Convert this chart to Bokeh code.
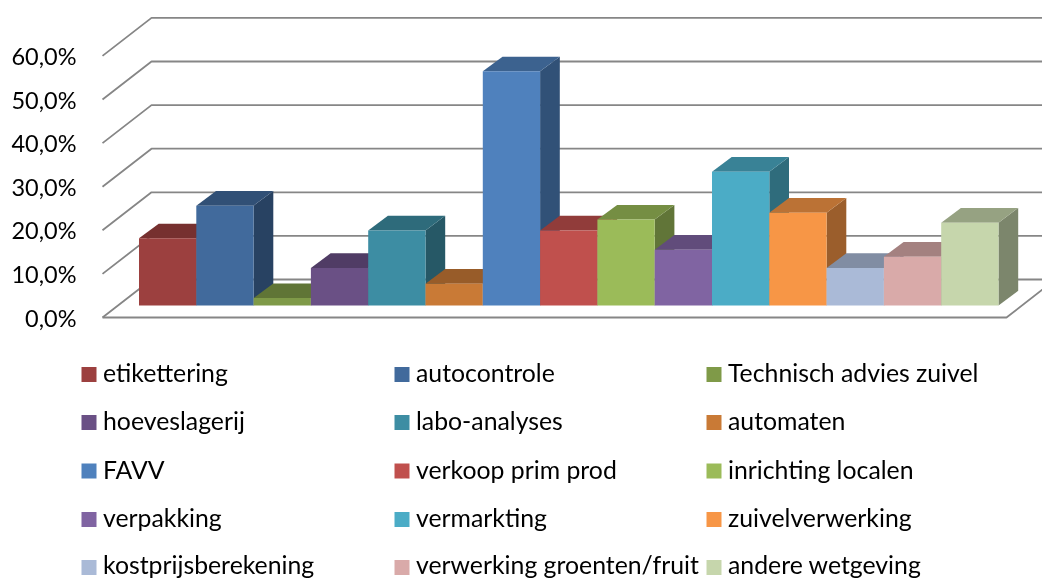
from bokeh.plotting import figure
from bokeh.models import FixedTicker, LinearAxis
from bokeh.core.properties import value
from bokeh.embed import file_html
from bokeh.resources import INLINE

categories = ["etikettering", "autocontrole", "Technisch advies zuivel",
              "hoeveslagerij", "labo-analyses", "automaten",
              "FAVV", "verkoop prim prod", "inrichting localen",
              "verpakking", "vermarkting", "zuivelverwerking",
              "kostprijsberekening", "verwerking groenten/fruit", "andere wetgeving"]
values = [15.4, 22.9, 1.7, 8.6, 17.2, 5.0, 53.7, 17.2, 19.7, 12.8, 30.7, 21.3, 8.6, 11.2, 19.0]
colors = ["#9C403F", "#416A9C", "#7F9A48", "#6A5085", "#3D8DA3", "#C97A36", "#4F81BD", "#C0504D",
          "#9BBB59", "#8064A2", "#4BACC6", "#F79646", "#AABAD7", "#D9AAA9", "#C6D6AC"]
ticks = [0, 10, 20, 30, 40, 50, 60]
tick_labels = ["0,0%", "10,0%", "20,0%", "30,0%", "40,0%", "50,0%", "60,0%"]

FONT = "Lato"
W, H = 1042, 579
LEFT = 78
CAT_PX, VAL_PX = 57.3, 4.36
X0_PX, Y0_PX = 138.5, 317


def dx(px):
    return (px - X0_PX) / CAT_PX


def dy(px):
    return (Y0_PX - px) / VAL_PX


def shade(c, f):
    r, g, b = (int(c[i:i + 2], 16) for i in (1, 3, 5))
    return "#%02X%02X%02X" % (int(r * f), int(g * f), int(b * f))


p = figure(width=W, height=H, output_backend="svg", toolbar_location=None,
           x_range=(dx(LEFT), dx(W)), y_range=(dy(H), dy(0)),
           min_border_left=LEFT, min_border_right=0, min_border_top=0, min_border_bottom=0,
           x_axis_type=None, y_axis_type=None,
           styles={"position": "fixed", "left": "0px", "top": "0px"})
p.grid.visible = False
p.outline_line_color = None
p.background_fill_color = "white"

axis = LinearAxis(ticker=FixedTicker(ticks=ticks),
                  major_label_overrides={t: s for t, s in zip(ticks, tick_labels)},
                  major_tick_line_color=None, minor_tick_line_color=None, axis_line_color=None,
                  major_label_standoff=-4, major_label_text_font=FONT,
                  major_label_text_font_size="23.5px", major_label_text_color="#000000",
                  major_label_text_font_style="normal")
p.add_layout(axis, "left")

# walls: depth of the box and of a bar in data units
BOX_DX, BOX_DY = 49 / CAT_PX, 38 / VAL_PX
BAR_DX, BAR_DY = 19.7 / CAT_PX, 14.7 / VAL_PX
GRID_L, GRID_R = dx(102), dx(1006)
BASE = dy(305)
GRID = "#868686"

xs = [[GRID_L, GRID_L + BOX_DX, GRID_R + BOX_DX] for _ in ticks]
ys = [[t, t + BOX_DY, t + BOX_DY] for t in ticks]
p.multi_line(xs, ys, line_color=GRID, line_width=1.8)
p.line([GRID_L, GRID_R, GRID_R + BOX_DX], [0, 0, BOX_DY], line_color=GRID, line_width=1.8)

for i, (v, c) in enumerate(zip(values, colors)):
    x0, x1, y0, y1 = i, i + 1, BASE, BASE + v
    p.patch([x1, x1 + BAR_DX, x1 + BAR_DX, x1],
            [y0, y0 + BAR_DY, y1 + BAR_DY, y1], fill_color=shade(c, 0.63), line_color=None)
    p.patch([x0, x0 + BAR_DX, x1 + BAR_DX, x1],
            [y1, y1 + BAR_DY, y1 + BAR_DY, y1], fill_color=shade(c, 0.76), line_color=None)
    p.quad(left=x0, right=x1, bottom=y0, top=y1, fill_color=c, line_color=None)

# legend laid out as the three-column grid of the original
COL_SWATCH = [81, 394, 706]
ROW_Y = [374, 422, 470.5, 519, 567]
TEXT_Y = [372, 420, 468.5, 517, 563.5]
SW = 15
lx0, lx1, lb, lt, tx, ty = [], [], [], [], [], []
for i in range(len(categories)):
    sx, sy = COL_SWATCH[i % 3], ROW_Y[i // 3]
    lx0.append(dx(sx)); lx1.append(dx(sx + SW))
    lb.append(dy(sy + SW / 2)); lt.append(dy(sy - SW / 2))
    tx.append(dx(sx + 21.5)); ty.append(dy(TEXT_Y[i // 3]))
p.quad(left=lx0, right=lx1, bottom=lb, top=lt, fill_color=colors, line_color=None)
p.text(x=tx, y=ty, text=categories, text_font=value(FONT), text_font_size="24.8px",
       text_baseline="middle", text_align="left", text_color="#000000")

open("out.html", "w").write(file_html(p, INLINE))
